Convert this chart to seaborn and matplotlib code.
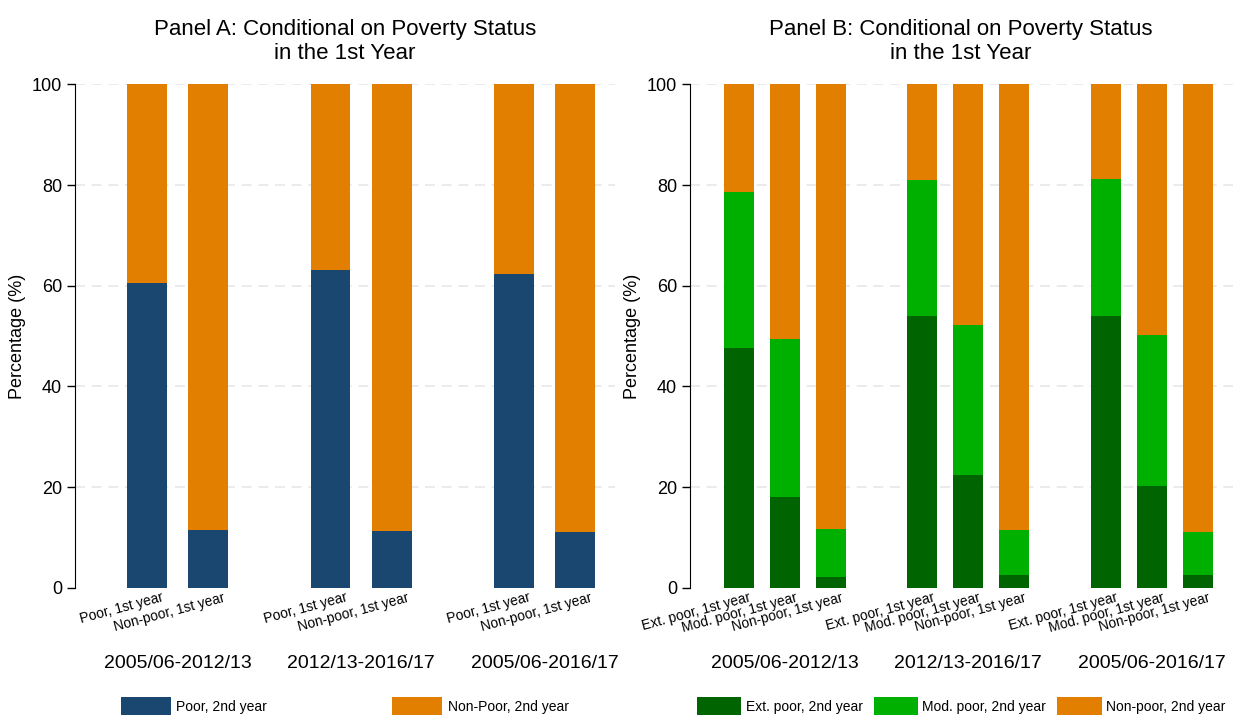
import matplotlib.pyplot as plt
import seaborn as sns
import numpy as np
from matplotlib.patches import Patch

periods = ["2005/06-2012/13", "2012/13-2016/17", "2005/06-2016/17"]

# Panel A: share poor in 2nd year, by 1st-year status
a_labels = ["Poor, 1st year", "Non-poor, 1st year"]
a_poor = [60.5, 11.5, 63.2, 11.3, 62.3, 11.0]

# Panel B: shares by 1st-year status
b_labels = ["Ext. poor, 1st year", "Mod. poor, 1st year", "Non-poor, 1st year"]
b_ext = [47.7, 18.0, 2.2, 54.0, 22.3, 2.6, 54.0, 20.3, 2.5]
b_mod = [31.0, 31.5, 9.5, 27.0, 30.0, 8.8, 27.2, 29.9, 8.5]

navy = "#1a476f"
orange = "#e37f00"
dgreen = "#006400"
lgreen = "#00b000"

sns.set_style("white")
plt.rcParams["font.family"] = ["Liberation Sans", "DejaVu Sans"]
plt.rcParams["text.color"] = "black"
plt.rcParams["axes.labelcolor"] = "black"
plt.rcParams["xtick.color"] = "black"
plt.rcParams["ytick.color"] = "black"
plt.rcParams["ytick.left"] = True
plt.rcParams["ytick.major.size"] = 6
plt.rcParams["ytick.major.width"] = 1

fig = plt.figure(figsize=(12.45, 7.22), dpi=100)
axA = fig.add_axes([0.060, 0.186, 0.434, 0.697])
axB = fig.add_axes([0.554, 0.186, 0.436, 0.697])

def style(ax, title):
    ax.set_ylim(0, 100)
    ax.set_yticks([0, 20, 40, 60, 80, 100])
    ax.tick_params(axis="y", labelsize=13, pad=3)
    for y in [20, 40, 60, 80, 100]:
        ax.axhline(y, color="#e8e8e8", lw=1.2, ls=(0, (6, 4)), zorder=0)
    for s in ["top", "right", "bottom"]:
        ax.spines[s].set_visible(False)
    ax.spines["left"].set_color("black")
    ax.set_ylabel("Percentage (%)", fontsize=13)
    ax.set_title(title, fontsize=16, pad=18)

# Panel A
posA = np.array([0, 1, 3, 4, 6, 7])
poor = np.array(a_poor)
axA.bar(posA, poor, width=0.65, color=navy, lw=0, zorder=2)
axA.bar(posA, 100 - poor, bottom=poor, width=0.65, color=orange, lw=0, zorder=2)
axA.set_xlim(-1.18, 7.65)
axA.set_xticks(posA + 0.3)
axA.set_xticklabels(a_labels * 3, rotation=15, ha="right", fontsize=10)
axA.tick_params(axis="x", length=0, pad=2)
for i, p in enumerate(periods):
    axA.text(posA[2 * i] + 0.5, -15, p, ha="center", va="center", fontsize=14,
             clip_on=False)
style(axA, "Panel A: Conditional on Poverty Status\nin the 1st Year")

# Panel B
posB = np.array([0, 1, 2, 4, 5, 6, 8, 9, 10])
ext = np.array(b_ext)
mod = np.array(b_mod)
axB.bar(posB, ext, width=0.65, color=dgreen, lw=0, zorder=2)
axB.bar(posB, mod, bottom=ext, width=0.65, color=lgreen, lw=0, zorder=2)
axB.bar(posB, 100 - ext - mod, bottom=ext + mod, width=0.65, color=orange, lw=0, zorder=2)
axB.set_xlim(-1.07, 10.76)
axB.set_xticks(posB + 0.3)
axB.set_xticklabels(b_labels * 3, rotation=15, ha="right", fontsize=10)
axB.tick_params(axis="x", length=0, pad=2)
for i, p in enumerate(periods):
    axB.text(posB[3 * i] + 1, -15, p, ha="center", va="center", fontsize=14,
             clip_on=False)
style(axB, "Panel B: Conditional on Poverty Status\nin the 1st Year")

# legends
hA = [Patch(color=navy, lw=0), Patch(color=orange, lw=0)]
axA.legend(hA, ["Poor, 2nd year", "Non-Poor, 2nd year"], loc="center",
           bbox_to_anchor=(0.5, -0.235), ncol=2, frameon=False, fontsize=10,
           handlelength=3.6, handleheight=1.6, columnspacing=9, handletextpad=0.4)
hB = [Patch(color=dgreen, lw=0), Patch(color=lgreen, lw=0), Patch(color=orange, lw=0)]
axB.legend(hB, ["Ext. poor, 2nd year", "Mod. poor, 2nd year", "Non-poor, 2nd year"],
           loc="center", bbox_to_anchor=(0.5, -0.235), ncol=3, frameon=False,
           fontsize=10, handlelength=3.2, handleheight=1.6, columnspacing=0.8,
           handletextpad=0.3)

fig.savefig("out.png", dpi=100)
